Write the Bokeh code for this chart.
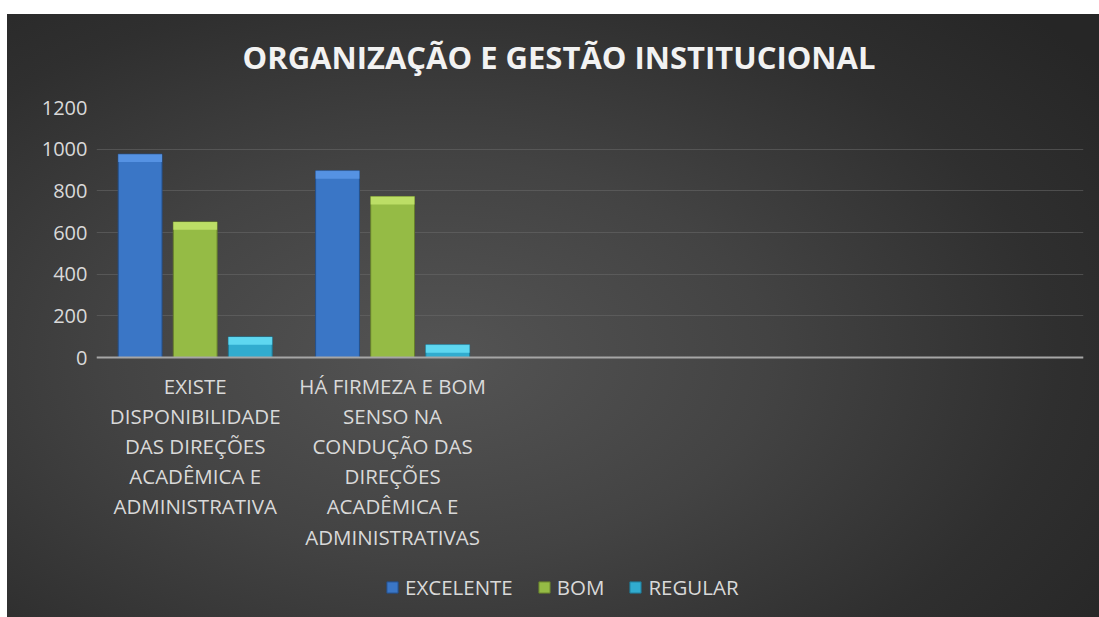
from bokeh.plotting import figure
from bokeh.models import (ColumnDataSource, FactorRange, Range1d, Legend, LegendItem,
                          FixedTicker, CategoricalAxis)
from bokeh.transform import dodge
from bokeh.embed import file_html
from bokeh.resources import INLINE

# ---- data ----
data_categories = [
    "EXISTE\nDISPONIBILIDADE\nDAS DIREÇÕES\nACADÊMICA E\nADMINISTRATIVA",
    "HÁ FIRMEZA E BOM\nSENSO NA\nCONDUÇÃO DAS\nDIREÇÕES\nACADÊMICA E\nADMINISTRATIVAS",
]
empty_slots = [" ", "  ", "   "]
series_names = ["EXCELENTE", "BOM", "REGULAR"]
excelente = [976, 896]
bom = [651, 773]
regular = [99, 61]
y_ticks = [0, 200, 400, 600, 800, 1000, 1200]

colors = {"EXCELENTE": "#3a76c6", "BOM": "#95bb45", "REGULAR": "#31accf"}
tops = {"EXCELENTE": "#5a98e8", "BOM": "#c3e46c", "REGULAR": "#66def6"}
edges = {"EXCELENTE": "#24508c", "BOM": "#667f2c", "REGULAR": "#1f7894"}

source = ColumnDataSource(data=dict(
    cat=data_categories,
    EXCELENTE=excelente,
    BOM=bom,
    REGULAR=regular,
    EXCELENTE_cap=[v - 38 for v in excelente],
    BOM_cap=[v - 38 for v in bom],
    REGULAR_cap=[max(v - 38, 0) for v in regular],
))

# frame runs to the bottom of the canvas; the value axis spans 250 px for 0..1200,
# the space below 0 (260 px) holds the category labels and the legend
px_per_unit = 250 / max(y_ticks)
below_zero = -260 / px_per_unit

p = figure(
    x_range=FactorRange(factors=data_categories + empty_slots, range_padding=0),
    y_range=Range1d(below_zero, max(y_ticks)),
    width=1099, height=617,
    output_backend="svg", toolbar_location=None,
    x_axis_location=None,
    min_border_left=96, min_border_right=16, min_border_top=107, min_border_bottom=0,
)
p.styles = {
    "background-image": "linear-gradient(to bottom, #ffffff 0px, #ffffff 14px, transparent 14px), "
                        "linear-gradient(to right, #ffffff 0px, #ffffff 7px, transparent 7px), "
                        "radial-gradient(ellipse 75% 80% at 40% 58%, #545454 0%, #434343 40%, #2f2f2f 75%, #262626 100%)",
}
p.border_fill_color = None
p.background_fill_color = None
p.outline_line_color = None

offsets = [-0.279, 0.0, 0.279]
bar_w = 0.222
renderers = {}
for name, off in zip(series_names, offsets):
    r = p.vbar(x=dodge("cat", off, range=p.x_range), top=name, width=bar_w, source=source,
               fill_color=colors[name], line_color=edges[name], line_width=1)
    p.vbar(x=dodge("cat", off, range=p.x_range), top=name, bottom=name + "_cap", width=bar_w,
           source=source, fill_color=tops[name], line_color=None, fill_alpha=0.85)
    renderers[name] = r

# title
p.title.text = "ORGANIZAÇÃO E GESTÃO INSTITUCIONAL"
p.title.align = "left"
p.title.offset = 146
p.title.standoff = 60
p.title.text_font = "Open Sans"
p.title.text_font_style = "bold"
p.title.text_font_size = "31px"
p.title.text_color = "#f2f2f2"

# value axis
p.yaxis.ticker = FixedTicker(ticks=y_ticks)
p.yaxis.axis_line_color = None
p.yaxis.major_tick_line_color = None
p.yaxis.minor_tick_line_color = None
p.yaxis.major_label_standoff = 3
p.yaxis.major_label_text_font = "Open Sans"
p.yaxis.major_label_text_font_size = "20px"
p.yaxis.major_label_text_color = "#d9d9d9"

# category axis, pinned at value 0
xaxis = CategoricalAxis(fixed_location=0)
xaxis.axis_line_color = "#a6a6a6"
xaxis.axis_line_width = 2
xaxis.major_tick_line_color = None
xaxis.minor_tick_line_color = None
xaxis.major_label_standoff = 8
xaxis.major_label_text_font = "Open Sans"
xaxis.major_label_text_font_size = "20.5px"
xaxis.major_label_text_color = "#d9d9d9"
xaxis.major_label_text_line_height = 1.08
xaxis.major_label_orientation = "horizontal"
p.add_layout(xaxis, "below")

p.xgrid.grid_line_color = None
p.ygrid.grid_line_color = "#6a6a6a"
p.ygrid.grid_line_alpha = 0.55

legend = Legend(
    items=[LegendItem(label=n, renderers=[renderers[n]]) for n in series_names],
    orientation="horizontal",
    location=(289, 16),
    label_text_font="Open Sans",
    label_text_font_size="20.5px",
    label_text_color="#d9d9d9",
    glyph_width=14, glyph_height=14,
    label_standoff=6, spacing=24,
    padding=0, margin=0,
    background_fill_alpha=0, border_line_color=None,
)
p.add_layout(legend, "center")

open("out.html", "w").write(file_html(p, INLINE))
